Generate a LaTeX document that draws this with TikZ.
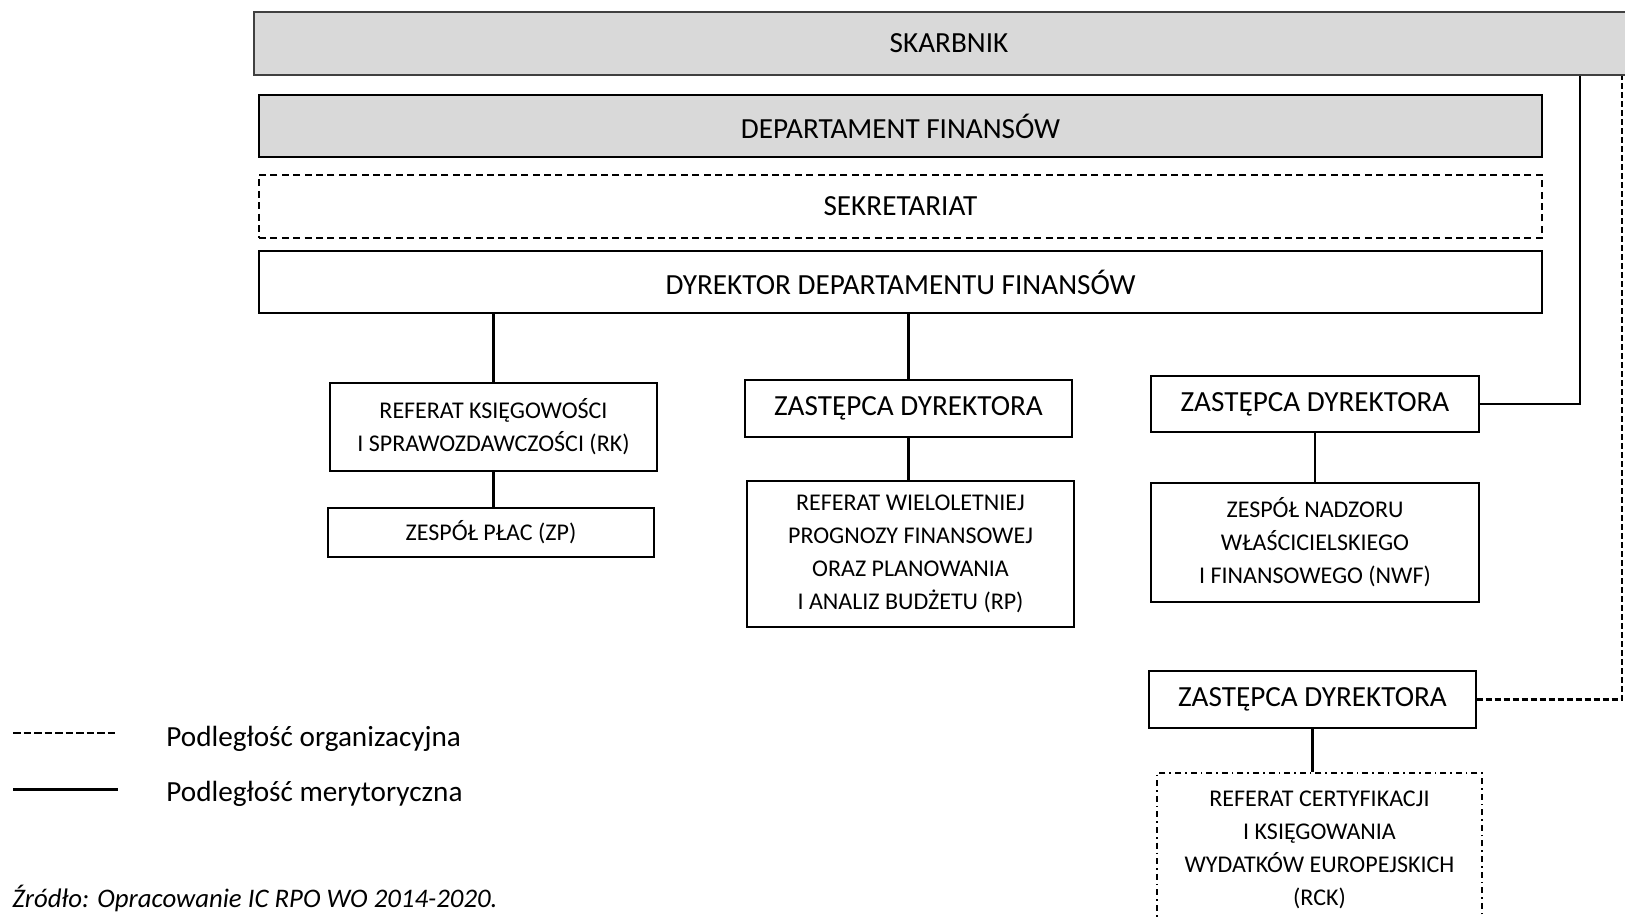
\documentclass[tikz,border=0pt]{standalone}
\usepackage{fontspec}
\setmainfont{Carlito}
\usetikzlibrary{calc}
\definecolor{headgray}{HTML}{D9D9D9}
\tikzset{
  unit/.style={draw,line width=0.7pt,align=center,inner sep=0pt,font=\fontsize{14.6}{17}\selectfont},
  head/.style={unit,fill=headgray},
  small/.style={unit,font=\fontsize{12}{16.5}\selectfont},
  dashbox/.style={dash pattern=on 3.5pt off 2.2pt},
  dashdotbox/.style={dash pattern=on 3pt off 2pt on 0.8pt off 2pt},
  merit/.style={line width=1.2pt},
  organ/.style={line width=1.1pt,dash pattern=on 3pt off 1.5pt},
  legend/.style={anchor=base west,inner sep=0pt,font=\fontsize{14.6}{17}\selectfont}
}

\begin{document}
\begin{tikzpicture}[x=0.5pt,y=-0.5pt]
\useasboundingbox (0,0) rectangle (1625,917);

\node[head,draw=black!75,minimum width=695pt,minimum height=31.5pt] (skarbnik) at (949,43.5) {SKARBNIK};
\node[head,minimum width=641.5pt,minimum height=31pt] (departament) at (900.5,126) {DEPARTAMENT FINANSÓW};
\node[unit,dashbox,minimum width=641.5pt,minimum height=31.5pt] (sekretariat) at (900.5,206.5) {SEKRETARIAT};
\node[unit,minimum width=641.5pt,minimum height=31pt] (dyrektor) at (900.5,282) {DYREKTOR DEPARTAMENTU FINANSÓW};

\node[small,minimum width=163.5pt,minimum height=44pt] (rk) at (493.5,427) {REFERAT KSIĘGOWOŚCI\\I SPRAWOZDAWCZOŚCI (RK)};
\node[small,minimum width=163pt,minimum height=24.5pt] (zp) at (491,532.5) {ZESPÓŁ PŁAC (ZP)};
\node[unit,minimum width=163.5pt,minimum height=28.5pt] (zastepca1) at (908.5,408.5) {ZASTĘPCA DYREKTORA};
\node[small,minimum width=163.5pt,minimum height=73pt] (rp) at (910.5,554) {REFERAT WIELOLETNIEJ\\PROGNOZY FINANSOWEJ\\ORAZ PLANOWANIA\\I ANALIZ BUDŻETU (RP)};
\node[unit,minimum width=164pt,minimum height=28pt] (zastepca2) at (1315,404) {ZASTĘPCA DYREKTORA};
\node[small,minimum width=164pt,minimum height=59.5pt] (nwf) at (1315,542.5) {ZESPÓŁ NADZORU\\WŁAŚCICIELSKIEGO\\I FINANSOWEGO (NWF)};
\node[unit,minimum width=163.5pt,minimum height=28.5pt] (zastepca3) at (1312.5,699.5) {ZASTĘPCA DYREKTORA};
\node[small,dashdotbox,minimum width=162.5pt,minimum height=77pt] (rck) at (1319.5,850) {REFERAT CERTYFIKACJI\\I KSIĘGOWANIA\\WYDATKÓW EUROPEJSKICH\\(RCK)};

\draw[merit] (dyrektor.south -| rk.north) -- (rk.north);
\draw[merit] (rk.south) -- (rk.south |- zp.north);
\draw[merit] (dyrektor.south -| zastepca1.north) -- (zastepca1.north);
\draw[merit] (zastepca1.south) -- (zastepca1.south |- rp.north);
\draw[merit] (zastepca2.south) -- (zastepca2.south |- nwf.north);
\draw[merit] (zastepca3.south) -- (zastepca3.south |- rck.north);

\coordinate (merytoryczna) at ($(skarbnik.south east)+(-65,0)$);
\coordinate (organizacyjna) at ($(skarbnik.south east)+(-23,0)$);
\draw[merit] (zastepca2.east) -| (merytoryczna);
\draw[organ] (zastepca3.east) -| (organizacyjna);

\draw[line width=1.1pt,dash pattern=on 3.75pt off 1.5pt] (13,733) -- (118,733);
\draw[line width=1.5pt] (13,789) -- (118,789);
\node[legend] (legendOrg) at (166,746) {Podległość organizacyjna};
\node[legend] (legendMer) at (166,801) {Podległość merytoryczna};
\node[legend,font=\fontsize{13.4}{16}\selectfont\itshape] (zrodlo) at (12,907) {Źródło: Opracowanie IC RPO WO 2014-2020.};

\end{tikzpicture}
\end{document}
